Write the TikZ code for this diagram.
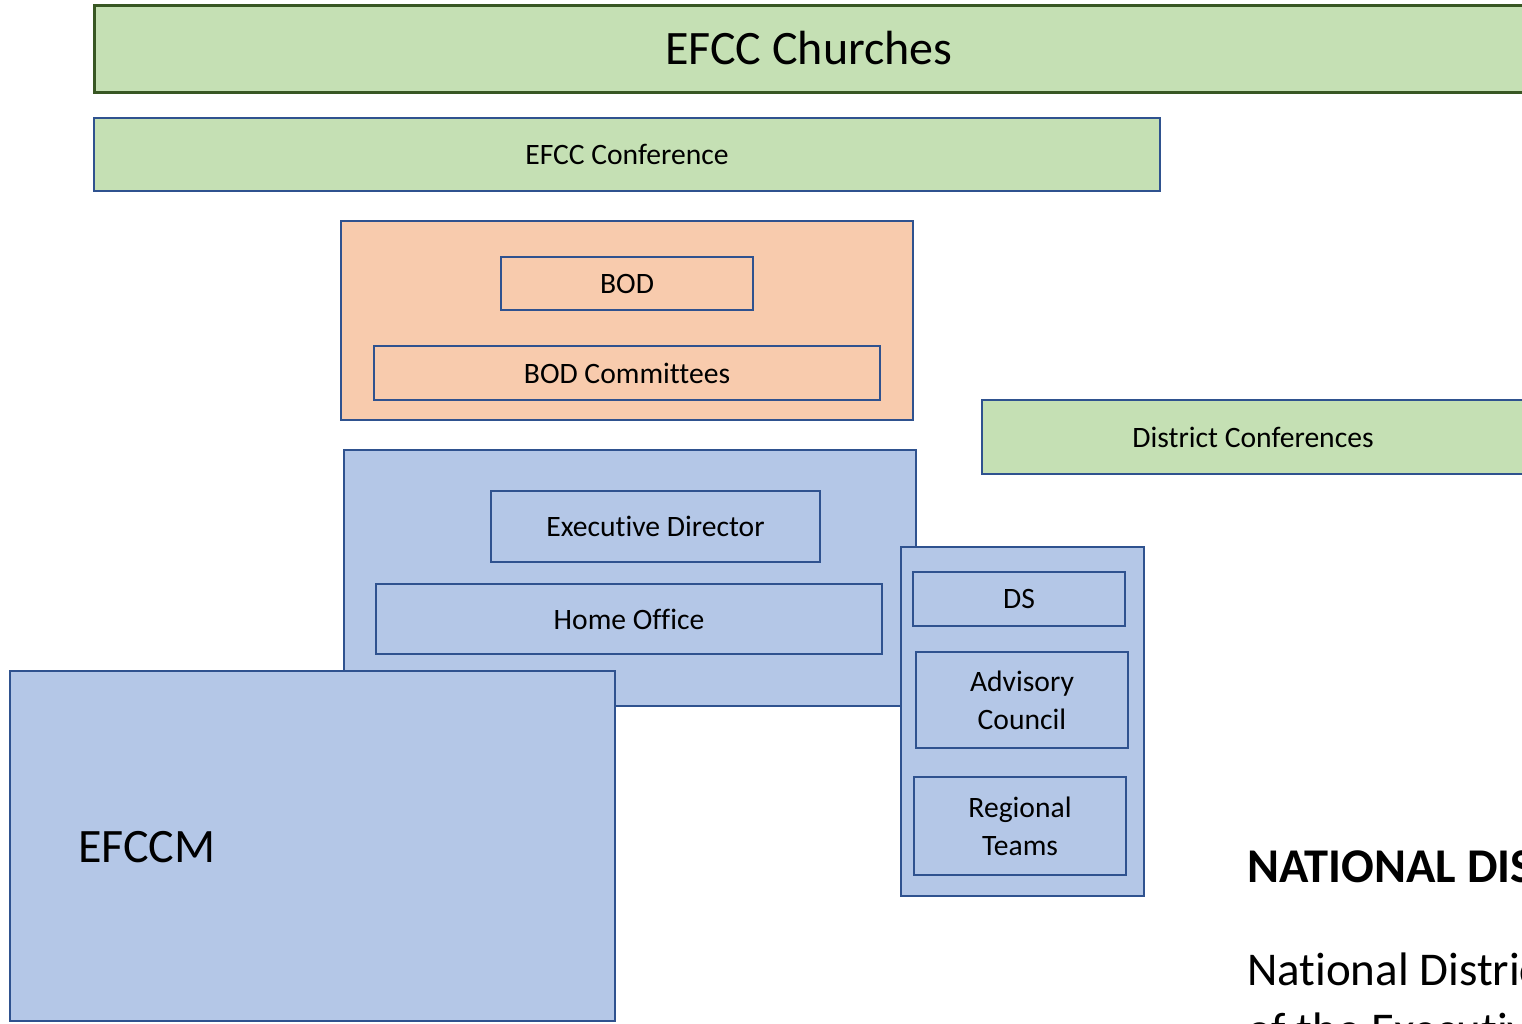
\documentclass[tikz,border=0pt]{standalone}
\usepackage{fontspec}
\setmainfont[Ligatures=NoCommon]{Carlito}
\definecolor{gfill}{HTML}{C5E0B4}
\definecolor{gdark}{HTML}{385723}
\definecolor{bline}{HTML}{2F528F}
\definecolor{ofill}{HTML}{F8CBAD}
\definecolor{bfill}{HTML}{B4C7E7}
\tikzset{
  box/.style={draw=bline, line width=2.8pt, inner sep=0pt, align=center, text=black, font=\fontsize{29.6}{38}\selectfont},
  greenbox/.style={box, fill=gfill},
  orangebox/.style={box, fill=ofill},
  bluebox/.style={box, fill=bfill},
}
\begin{document}
\begin{tikzpicture}[x=1pt, y=-1pt]
\useasboundingbox (0,0) rectangle (1522,1023);
\clip (0,0) rectangle (1522,1023);
\fill[white] (0,0) rectangle (1522,1023);
% top rows
\node[greenbox, draw=gdark, line width=3pt, minimum width=1430pt, minimum height=87pt, font=\fontsize{48}{56}\selectfont] (churches) at (809,48.5) {EFCC Churches};
\node[greenbox, minimum width=1066pt, minimum height=73pt] (conf) at (627,154.5) {EFCC Conference};
% board
\node[orangebox, line width=2.4pt, minimum width=572pt, minimum height=199pt] (board) at (627,320.5) {};
\node[orangebox, minimum width=252pt, minimum height=53pt] (bod) at (627,283.5) {BOD};
\node[orangebox, minimum width=506pt, minimum height=54pt] (bodc) at (627,373) {BOD Committees};
% district conferences
\node[greenbox, minimum width=542pt, minimum height=74pt] (district) at (1253,437) {District Conferences};
% home office group
\node[bluebox, minimum width=572pt, minimum height=256pt] (office) at (630,578) {};
\node[bluebox, minimum width=329pt, minimum height=71pt] (ed) at (655.5,526.5) {Executive Director};
\node[bluebox, minimum width=506pt, minimum height=70pt] (home) at (629,619) {Home Office};
% EFCCM
\node[bluebox, minimum width=605pt, minimum height=350pt] (efccm) at (312.5,846) {};
\node[anchor=base west, inner sep=0pt, font=\fontsize{48}{55}\selectfont] (efccmlabel) at (78,862) {EFCCM};
% district panel
\node[bluebox, minimum width=243pt, minimum height=349pt] (panel) at (1022.5,721.5) {};
\node[bluebox, minimum width=212pt, minimum height=54pt] (ds) at (1019,599) {DS};
\node[bluebox, minimum width=212pt, minimum height=96pt] (adv) at (1022,700) {Advisory\\Council};
\node[bluebox, minimum width=212pt, minimum height=98pt] (reg) at (1020,826) {Regional\\Teams};
% text at lower right (cut off by the edge, as in the reference)
\node[anchor=base west, inner sep=0pt, font=\fontsize{48.5}{55}\selectfont\bfseries] (natl) at (1247,882) {NATIONAL DISTRICTS};
\node[anchor=base west, inner sep=0pt, font=\fontsize{47}{58}\selectfont] (natl1) at (1247,985) {National Districts};
\node[anchor=base west, inner sep=0pt, font=\fontsize{47}{58}\selectfont] (natl2) at (1247,1045) {of the Executive};
\end{tikzpicture}
\end{document}
